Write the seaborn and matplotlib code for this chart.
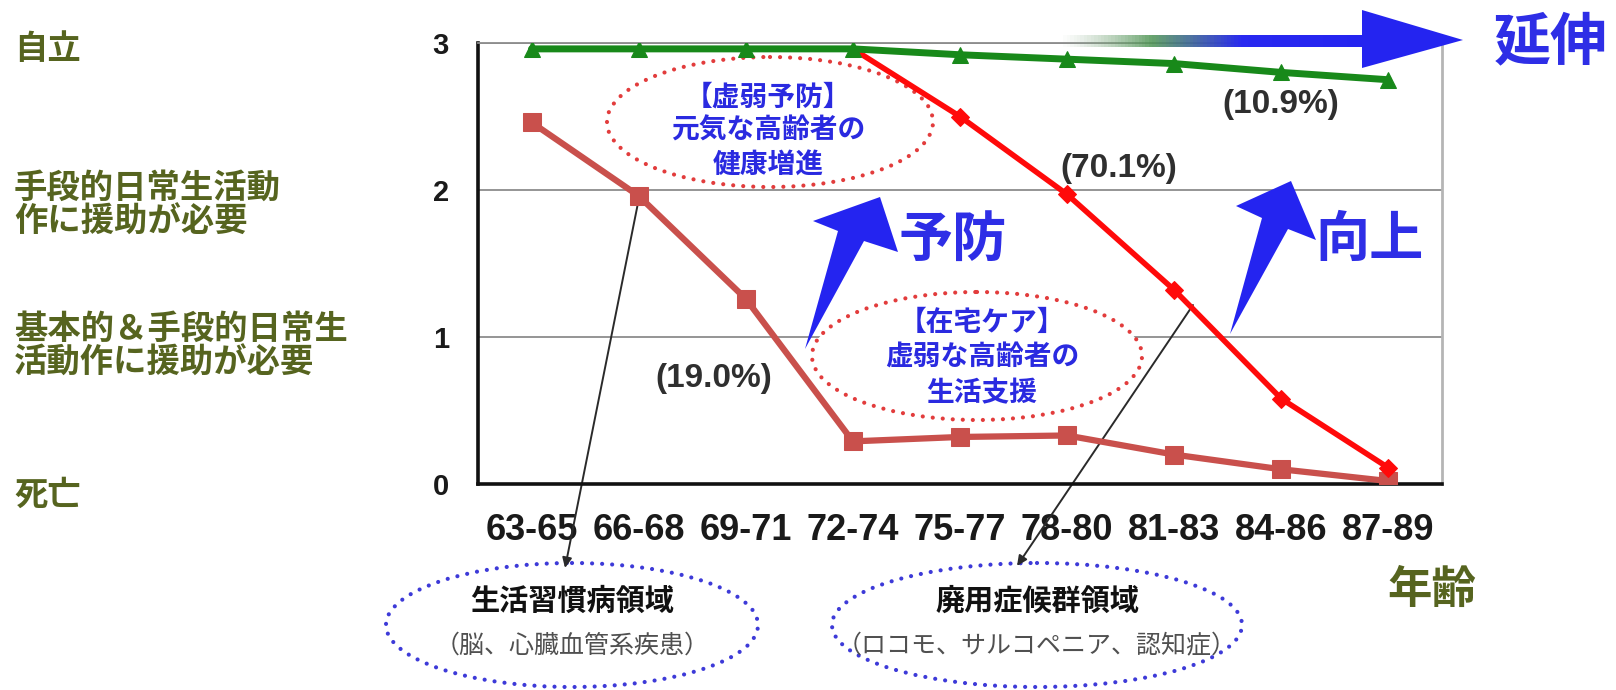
import numpy as np
import pandas as pd
import matplotlib
matplotlib.use("Agg")
import matplotlib.pyplot as plt
import seaborn as sns
from matplotlib.patches import Ellipse, Polygon
from matplotlib.collections import LineCollection
from matplotlib.transforms import Affine2D

# ---- data -------------------------------------------------------------
age_groups = ["63-65", "66-68", "69-71", "72-74", "75-77",
              "78-80", "81-83", "84-86", "87-89"]
# independence level by age group (3 = 自立, 0 = 死亡)
sustained = [2.96, 2.96, 2.96, 2.96, 2.92, 2.89, 2.86, 2.80, 2.75]   # 10.9%
gradual   = [2.96, 2.96, 2.96, 2.96, 2.50, 1.97, 1.32, 0.58, 0.11]   # 70.1%
early     = [2.46, 1.96, 1.26, 0.29, 0.32, 0.33, 0.20, 0.10, 0.02]   # 19.0%
share_labels = ["(10.9%)", "(70.1%)", "(19.0%)"]
level_ticks = [0, 1, 2, 3]
level_tick_labels = ["0", "1", "2", "3"]
level_names = ["死亡",
               "基本的＆手段的日常生\n活動作に援助が必要",
               "手段的日常生活動\n作に援助が必要",
               "自立"]

W, H = 1616, 690
JP = ["Noto Sans CJK JP", "DejaVu Sans"]

sns.set_style("white")
plt.rcParams["font.family"] = ["Liberation Sans", "Noto Sans CJK JP", "DejaVu Sans"]

fig = plt.figure(figsize=(W / 100, H / 100), dpi=100)
ax = fig.add_axes([478 / W, 1 - 484 / H, (1442 - 478) / W, (484 - 43) / H])
# pixel coordinates measured from the top-left corner of the figure
P = Affine2D().scale(1 / W, -1 / H).translate(0, 1) + fig.transFigure

pos = np.arange(len(age_groups))
df = pd.DataFrame({"pos": np.tile(pos, 3),
                   "level": early + gradual + sustained,
                   "group": ["early"] * 9 + ["gradual"] * 9 + ["sustained"] * 9})

# ---- axes frame -------------------------------------------------------
ax.set_xlim(-0.5, len(age_groups) - 0.5)
ax.set_ylim(0, 3)
ax.set_xticks(pos)
ax.set_xticklabels(age_groups, fontsize=26, fontweight="bold")
ax.set_yticks(level_ticks)
ax.set_yticklabels(level_tick_labels, fontsize=21, fontweight="bold")
ax.set_xticks(np.arange(0.5, len(age_groups) - 1, 1), minor=True)
ax.tick_params(axis="x", which="major", length=0, pad=21, colors="#1a1a1a")
ax.tick_params(axis="y", which="major", length=0, pad=21, colors="#1a1a1a")
ax.tick_params(axis="x", which="minor", direction="in", length=5,
               width=1, color="#9a9a9a")
ax.yaxis.grid(True, color="#8c8c8c", lw=1.3, zorder=0)
ax.xaxis.grid(False)
ax.set_axisbelow(True)
for side, col, lw in [("left", "#111111", 2.6), ("bottom", "#111111", 2.6),
                      ("right", "#b5b5b5", 2.0), ("top", "#8c8c8c", 1.3)]:
    ax.spines[side].set_visible(True)
    ax.spines[side].set_color(col)
    ax.spines[side].set_linewidth(lw)

# ---- dotted ellipses ---------------------------------------------------
def dotted_ellipse(cx, cy, w, h, color, z):
    e = Ellipse((cx, cy), w, h, transform=P, facecolor="white",
                edgecolor=color, lw=3.0, linestyle=(0, (0.01, 2.4)),
                capstyle="round", zorder=z)
    ax.add_patch(e)
    e.set_clip_on(False)

dotted_ellipse(770, 122, 326, 130, "#e23c3c", 1.5)
dotted_ellipse(977, 356, 330, 128, "#e23c3c", 1.5)
dotted_ellipse(572, 625, 372, 124, "#3d3ad8", 1.5)
dotted_ellipse(1037, 625, 410, 124, "#3d3ad8", 1.5)

# ---- pointer arrows to the disease domains ----------------------------
for start, end in [((639, 198), (565, 568)), ((1193, 305), (1017, 566))]:
    ax.annotate("", xy=end, xycoords=P, xytext=start, textcoords=P,
                arrowprops=dict(arrowstyle="-|>,head_length=0.6,head_width=0.28",
                                color="#2a2a2a", lw=1.4, shrinkA=0, shrinkB=0),
                annotation_clip=False, zorder=2.5)

# ---- trajectories -----------------------------------------------------
sns.lineplot(data=df[df.group == "early"], x="pos", y="level", ax=ax,
             color="#c9504c", lw=4.5, marker="s", markersize=13,
             markeredgecolor="#c9504c", zorder=3)
sns.lineplot(data=df[df.group == "gradual"], x="pos", y="level", ax=ax,
             color="#ff0a0a", lw=4.0, marker="D", markersize=9,
             markeredgecolor="#ff0a0a", markevery=slice(4, None), zorder=4)
sns.lineplot(data=df[df.group == "sustained"], x="pos", y="level", ax=ax,
             color="#18891a", lw=5.0, marker="^", markersize=11,
             markeredgecolor="#18891a", zorder=5)
ax.set_xlabel("")
ax.set_ylabel("")

# ---- share labels -----------------------------------------------------
for txt, (x, y) in zip(share_labels, [(1281, 104), (1119, 169), (714, 378)]):
    ax.text(x, y, txt, transform=P, ha="center", va="center", fontsize=24,
            fontweight="bold", color="#2f2f2f", zorder=7, clip_on=False)

# ---- blue arrows ------------------------------------------------------
BLUE = "#2424f0"

# long horizontal arrow with a fading shaft
xs = np.linspace(1060, 1364, 90)
stops_x = [1060, 1150, 1240, 1364]
stops_c = np.array([[0.62, 0.72, 0.62, 0.0],
                    [0.30, 0.58, 0.32, 0.85],
                    [0.16, 0.16, 0.94, 1.0],
                    [0.14, 0.14, 0.94, 1.0]])
cols = np.column_stack([np.interp(xs[:-1], stops_x, stops_c[:, k]) for k in range(4)])
segs = [[(xs[i], 41), (xs[i + 1], 41)] for i in range(len(xs) - 1)]
lc = LineCollection(segs, colors=cols, linewidths=12 * 0.72, capstyle="butt",
                    transform=P, zorder=6)
ax.add_collection(lc)
lc.set_clip_on(False)
head = Polygon([(1362, 10), (1463, 40), (1362, 68)], closed=True, transform=P,
               facecolor=BLUE, edgecolor="none", zorder=6)
ax.add_patch(head)
head.set_clip_on(False)

# rising arrows
for pts in [
    [(805, 349), (864, 241), (898, 252), (880, 197), (813, 221), (838, 231)],
    [(1230, 334), (1288, 229), (1316, 240), (1291, 181), (1236, 206), (1262, 218)],
]:
    pg = Polygon(pts, closed=True, transform=P, facecolor=BLUE,
                 edgecolor="none", zorder=6)
    ax.add_patch(pg)
    pg.set_clip_on(False)

for txt, (x, y), fs in [("延伸", (1551, 42), 41), ("予防", (953, 240), 39),
                        ("向上", (1370, 240), 39)]:
    ax.text(x, y, txt, transform=P, ha="center", va="center", fontsize=fs,
            fontweight="bold", color="#2e2ee6", family=JP, zorder=7, clip_on=False)

# ---- ellipse captions -------------------------------------------------
for lines, cx, ys in [(["【虚弱予防】", "元気な高齢者の", "健康増進"], 768, [98, 131, 165]),
                      (["【在宅ケア】", "虚弱な高齢者の", "生活支援"], 982, [323, 358, 393])]:
    for t, y in zip(lines, ys):
        ax.text(cx, y, t, transform=P, ha="center", va="center", fontsize=20,
                fontweight="bold", color="#2a2ae0", family=JP, zorder=7, clip_on=False)

for title, sub, cx in [("生活習慣病領域", "（脳、心臓血管系疾患）", 572),
                       ("廃用症候群領域", "（ロコモ、サルコペニア、認知症）", 1037)]:
    ax.text(cx, 601, title, transform=P, ha="center", va="center", fontsize=21,
            fontweight="bold", color="#111111", family=JP, zorder=7, clip_on=False)
    ax.text(cx, 646, sub, transform=P, ha="center", va="center", fontsize=18,
            color="#505050", family=JP, zorder=7, clip_on=False)

# ---- level names on the far left and the age caption ------------------
OLIVE = "#56641f"
for name, y in zip(level_names, [495, 346, 205, 49]):
    fig.text(14, y, name, transform=P, ha="left", va="center", fontsize=24,
             fontweight="bold", color=OLIVE, family=JP, linespacing=1.05)
fig.text(1432, 590, "年齢", transform=P, ha="center", va="center", fontsize=32,
         fontweight="bold", color=OLIVE, family=JP)

fig.savefig("out.png", dpi=100)
